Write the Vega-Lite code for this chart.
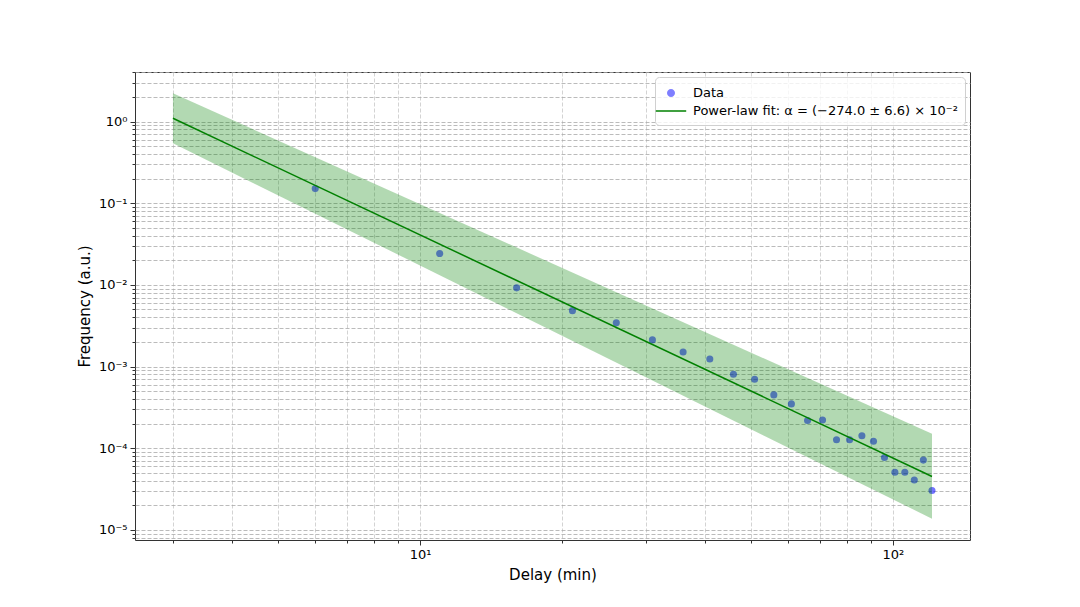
{
  "$schema": "https://vega.github.io/schema/vega-lite/v6.json",
  "width": 835,
  "height": 468,
  "autosize": "none",
  "padding": {"left": 135, "top": 72, "right": 110, "bottom": 67},
  "background": "white",
  "config": {
    "font": "DejaVu Sans",
    "view": {"stroke": "#333333", "strokeWidth": 1}
  },
  "datasets": {
    "points": [
      {"x": 6, "y": 0.151, "series": "Data"},
      {"x": 11, "y": 0.0242, "series": "Data"},
      {"x": 16, "y": 0.0092, "series": "Data"},
      {"x": 21, "y": 0.00484, "series": "Data"},
      {"x": 26, "y": 0.00343, "series": "Data"},
      {"x": 31, "y": 0.00212, "series": "Data"},
      {"x": 36, "y": 0.00151, "series": "Data"},
      {"x": 41, "y": 0.00124, "series": "Data"},
      {"x": 46, "y": 0.000806, "series": "Data"},
      {"x": 51, "y": 0.0007, "series": "Data"},
      {"x": 56, "y": 0.00045, "series": "Data"},
      {"x": 61, "y": 0.000349, "series": "Data"},
      {"x": 66, "y": 0.000218, "series": "Data"},
      {"x": 71, "y": 0.000222, "series": "Data"},
      {"x": 76, "y": 0.000127, "series": "Data"},
      {"x": 81, "y": 0.000127, "series": "Data"},
      {"x": 86, "y": 0.000142, "series": "Data"},
      {"x": 91, "y": 0.000122, "series": "Data"},
      {"x": 96, "y": 0.0000769, "series": "Data"},
      {"x": 101, "y": 0.0000509, "series": "Data"},
      {"x": 106, "y": 0.0000509, "series": "Data"},
      {"x": 111, "y": 0.0000408, "series": "Data"},
      {"x": 116, "y": 0.0000715, "series": "Data"},
      {"x": 121, "y": 0.0000303, "series": "Data"}
    ],
    "fit": [
      {"x": 3, "fit": 1.097, "lo": 0.542, "hi": 2.22},
      {"x": 121, "fit": 0.0000451, "lo": 0.0000137, "hi": 0.00015}
    ]
  },
  "layer": [
    {
      "data": {"name": "points"},
      "mark": {"type": "circle", "size": 50, "opacity": 0.55},
      "encoding": {
        "x": {
          "field": "x", "type": "quantitative",
          "scale": {"type": "log", "domain": [2.494, 145.6], "nice": false},
          "axis": {
            "values": [3, 4, 5, 6, 7, 8, 9, 10, 20, 30, 40, 50, 60, 70, 80, 90, 100],
            "labelExpr": "datum.value == 10 ? '10¹' : datum.value == 100 ? '10²' : ''",
            "title": "Delay (min)",
            "titleFontSize": 15, "titleFontWeight": "normal", "titleColor": "#000000", "titlePadding": 6,
            "labelFontSize": 13, "labelColor": "#000000", "labelPadding": 3,
            "labelOverlap": false, "labelFlush": false,
            "tickColor": "#333333", "tickWidth": 1,
            "tickSize": {"condition": {"test": "datum.value == 10 || datum.value == 100", "value": 5}, "value": 3},
            "grid": true, "gridColor": "#c8c8c8", "gridDash": [4, 2], "gridWidth": 0.8,
            "domain": false
          }
        },
        "y": {
          "field": "y", "type": "quantitative",
          "scale": {"type": "log", "domain": [0.00000752, 4.045], "nice": false},
          "axis": {
            "values": [0.000008, 0.000009, 0.00001, 0.00002, 0.00003, 0.00004, 0.00005, 0.00006, 0.00007, 0.00008, 0.00009, 0.0001, 0.0002, 0.0003, 0.0004, 0.0005, 0.0006, 0.0007, 0.0008, 0.0009, 0.001, 0.002, 0.003, 0.004, 0.005, 0.006, 0.007, 0.008, 0.009, 0.01, 0.02, 0.03, 0.04, 0.05, 0.06, 0.07, 0.08, 0.09, 0.1, 0.2, 0.3, 0.4, 0.5, 0.6, 0.7, 0.8, 0.9, 1, 2, 3, 4],
            "labelExpr": "datum.value == 1 ? '10⁰' : datum.value == 0.1 ? '10⁻¹' : datum.value == 0.01 ? '10⁻²' : datum.value == 0.001 ? '10⁻³' : datum.value == 0.0001 ? '10⁻⁴' : datum.value == 0.00001 ? '10⁻⁵' : ''",
            "title": "Frequency (a.u.)",
            "titleFontSize": 15, "titleFontWeight": "normal", "titleColor": "#000000", "titlePadding": 6,
            "labelFontSize": 13, "labelColor": "#000000", "labelPadding": 3,
            "labelOverlap": false, "labelFlush": false,
            "tickColor": "#333333", "tickWidth": 1,
            "tickSize": {"condition": {"test": "indexof([1, 0.1, 0.01, 0.001, 0.0001, 0.00001], datum.value) >= 0", "value": 5}, "value": 3},
            "grid": true, "gridColor": "#aaaaaa", "gridDash": [4, 2], "gridWidth": 0.8,
            "domain": false
          }
        },
        "color": {
          "field": "series", "type": "nominal",
          "scale": {"domain": ["Data", "Power-law fit: α = (−274.0 ± 6.6) × 10⁻²"], "range": ["#0000ff", "#008000"]},
          "legend": {
            "title": null,
            "orient": "top-right",
            "offset": 5,
            "padding": 7,
            "rowPadding": 2,
            "cornerRadius": 4,
            "strokeColor": "#d0d0d0",
            "fillColor": "rgba(255,255,255,0.8)",
            "labelFont": "DejaVu Sans",
            "labelFontSize": 13,
            "labelColor": "#000000",
            "labelLimit": 500,
            "labelOffset": 13,
            "symbolSize": 256,
            "symbolType": {"expr": "datum.value === 'Data' ? 'M-0.5,0A0.5,0.5,0,1,0,0.5,0A0.5,0.5,0,1,0,-0.5,0Z' : 'M-1.9,0L1.9,0'"},
            "symbolStrokeColor": {"expr": "datum.value === 'Data' ? 'transparent' : '#008000'"},
            "symbolStrokeWidth": 1.5,
            "symbolOpacity": {"expr": "datum.value === 'Data' ? 0.5 : 1"}
          }
        }
      }
    },
    {
      "data": {"name": "fit"},
      "mark": {"type": "area", "color": "#008000", "opacity": 0.3},
      "encoding": {
        "x": {"field": "x", "type": "quantitative", "title": "Delay (min)", "scale": {"type": "log", "domain": [2.494, 145.6], "nice": false}},
        "y": {"field": "hi", "type": "quantitative", "title": "Frequency (a.u.)", "scale": {"type": "log", "domain": [0.00000752, 4.045], "nice": false}},
        "y2": {"field": "lo"}
      }
    },
    {
      "data": {"name": "fit"},
      "mark": {"type": "line", "color": "#008000", "strokeWidth": 1.5},
      "encoding": {
        "x": {"field": "x", "type": "quantitative", "title": "Delay (min)", "scale": {"type": "log", "domain": [2.494, 145.6], "nice": false}},
        "y": {"field": "fit", "type": "quantitative", "title": "Frequency (a.u.)", "scale": {"type": "log", "domain": [0.00000752, 4.045], "nice": false}}
      }
    }
  ]
}
